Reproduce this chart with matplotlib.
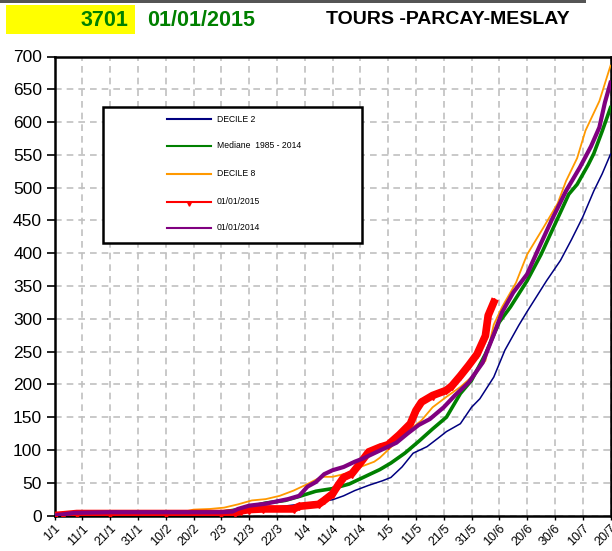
import matplotlib
matplotlib.use("Agg")
import matplotlib.pyplot as plt
from matplotlib.patches import Rectangle
from matplotlib.lines import Line2D

plt.rcParams['font.family'] = ['Liberation Sans', 'DejaVu Sans']

# ---------------- data ----------------
tick_days = list(range(0, 201, 10))
tick_labels = ['1/1', '11/1', '21/1', '31/1', '10/2', '20/2', '2/3', '12/3', '22/3', '1/4',
               '11/4', '21/4', '1/5', '11/5', '21/5', '31/5', '10/6', '20/6', '30/6', '10/7', '20/7']
y_ticks = list(range(0, 701, 50))

decile2_days = [0, 10, 30, 50, 60, 70, 80, 90, 100, 104, 108, 113, 118, 121, 125, 129, 134, 138, 141,
                146, 150, 153, 158, 162, 167, 170, 177, 182, 186, 190, 194, 197, 200]
decile2_vals = [0, 1, 2, 3, 4, 8, 13, 18, 24, 30, 38, 46, 53, 58, 74, 95, 105, 118, 128,
                140, 165, 178, 211, 252, 290, 311, 358, 389, 421, 455, 495, 521, 551]

median_days = [0, 10, 30, 50, 60, 66, 72, 76, 83, 88, 94, 100, 106, 112, 117, 121, 126, 131, 136, 141,
               146, 150, 155, 160, 164, 170, 175, 180, 185, 188, 192, 194, 197, 200]
median_vals = [0, 2, 3, 4, 5, 9, 15, 19, 23, 29, 37, 41, 48, 60, 70, 80, 95, 113, 132, 150,
               186, 206, 246, 295, 318, 358, 398, 444, 490, 505, 535, 552, 586, 622]

decile8_days = [0, 10, 30, 45, 50, 56, 61, 66, 71, 76, 81, 86, 91, 96, 100, 105, 110, 115, 117, 121,
                126, 132, 136, 141, 146, 150, 155, 158, 161, 166, 170, 176, 181, 184, 188, 191, 196, 200]
decile8_vals = [0, 2, 3, 4, 9, 10, 12, 17, 23, 25, 30, 38, 48, 59, 59, 64, 74, 82, 88, 104,
                125, 145, 165, 181, 196, 211, 236, 291, 318, 355, 398, 440, 476, 510, 545, 587, 632, 686]

y2015_days = [0, 3, 8, 20, 40, 60, 65, 67, 70, 75, 86, 88, 95, 97, 100, 102, 104, 107, 110, 113, 117,
              120, 124, 128, 130, 132, 136, 141, 143, 146, 149, 152, 155, 156, 158]
y2015_vals = [0, 1, 3, 3, 3, 3, 4, 7, 9, 10, 10, 14, 17, 23, 33, 46, 58, 64, 80, 97, 104,
              108, 123, 140, 160, 173, 183, 191, 198, 213, 229, 246, 274, 305, 325]

y2014_days = [0, 7, 20, 40, 60, 64, 66, 70, 76, 84, 88, 91, 94, 97, 100, 104, 108, 111, 115, 119,
              123, 127, 131, 135, 140, 144, 149, 154, 158, 161, 165, 170, 174, 179, 184, 189, 193,
              196, 198, 200]
y2014_vals = [0, 4, 5, 5, 5, 6, 10, 15, 18, 25, 30, 44, 51, 63, 69, 74, 82, 87, 95, 103,
              111, 125, 138, 147, 165, 183, 203, 233, 276, 310, 340, 368, 406, 452, 495, 531, 563,
              592, 630, 660]

labels = ['DECILE 2', 'Mediane  1985 - 2014', 'DECILE 8', '01/01/2015', '01/01/2014']
colors = ['#000080', '#008000', '#FF9900', '#FF0000', '#800080']

# ---------------- figure ----------------
W, H = 612, 551
fig = plt.figure(figsize=(W / 100, H / 100), dpi=100)

def fx(px):
    return px / W

def fy(py):
    return 1 - py / H

L, R, T, B = 54.5, 610.5, 56.5, 515.5
ax = fig.add_axes([fx(L), fy(B), fx(R) - fx(L), fy(T) - fy(B)])

ax.plot(decile2_days, decile2_vals, color=colors[0], lw=1.1, zorder=3)
ax.plot(median_days, median_vals, color=colors[1], lw=2.6, zorder=4)
ax.plot(decile8_days, decile8_vals, color=colors[2], lw=1.3, zorder=3.5)
ax.plot(y2015_days, y2015_vals, color=colors[3], lw=5.5, zorder=5,
        marker='d', ms=4, mec=colors[3], mfc=colors[3])
ax.plot(y2014_days, y2014_vals, color=colors[4], lw=3, zorder=6)

ax.set_xlim(0, 200)
ax.set_ylim(0, 700)
ax.set_xticks(tick_days)
ax.set_xticklabels(tick_labels, rotation=45, ha='right', rotation_mode='anchor', fontsize=9)
ax.set_yticks(y_ticks)
ax.set_yticklabels([str(v) for v in y_ticks], fontsize=12.5)
ax.tick_params(axis='y', direction='out', length=6, width=1.2, pad=3)
ax.tick_params(axis='x', direction='out', length=3, width=1, pad=2)
ax.grid(True, color='#c0c0c0', linestyle=(0, (4, 3)), linewidth=1.2, zorder=1)
for s in ax.spines.values():
    s.set_linewidth(1.8)
    s.set_color('black')

# ---------------- header ----------------
fig.add_artist(Rectangle((0, fy(3)), fx(586), fy(0) - fy(3), transform=fig.transFigure,
                         color='#555555', lw=0))
fig.add_artist(Rectangle((fx(6), fy(34)), fx(135) - fx(6), fy(5) - fy(34), transform=fig.transFigure,
                         color='#FFFF00', lw=0))
fig.text(fx(128), fy(20), '3701', color='#008000', fontsize=15.5, fontweight='bold',
         ha='right', va='center')
fig.text(fx(147), fy(20), '01/01/2015', color='#008000', fontsize=15.5, fontweight='bold',
         ha='left', va='center')
fig.text(fx(326), fy(20), 'TOURS -PARCAY-MESLAY', color='black', fontsize=14, fontweight='bold',
         ha='left', va='center')

# ---------------- legend ----------------
fig.add_artist(Rectangle((fx(103), fy(243)), fx(362) - fx(103), fy(107) - fy(243),
                         transform=fig.transFigure, facecolor='white', edgecolor='black',
                         lw=1.8, zorder=10))
rows = [119, 146, 174, 202, 228]
for lab, col, ry in zip(labels, colors, rows):
    fig.add_artist(Line2D([fx(167), fx(211)], [fy(ry), fy(ry)], color=col,
                          lw=1.5, transform=fig.transFigure, zorder=11))
    if lab == '01/01/2015':
        fig.add_artist(Line2D([fx(189)], [fy(ry + 2)], color=col, marker='v', ms=2.5,
                              transform=fig.transFigure, zorder=11))
    fig.text(fx(217), fy(ry), lab, fontsize=6.2, ha='left', va='center', zorder=12)

fig.savefig('out.png', dpi=100)
